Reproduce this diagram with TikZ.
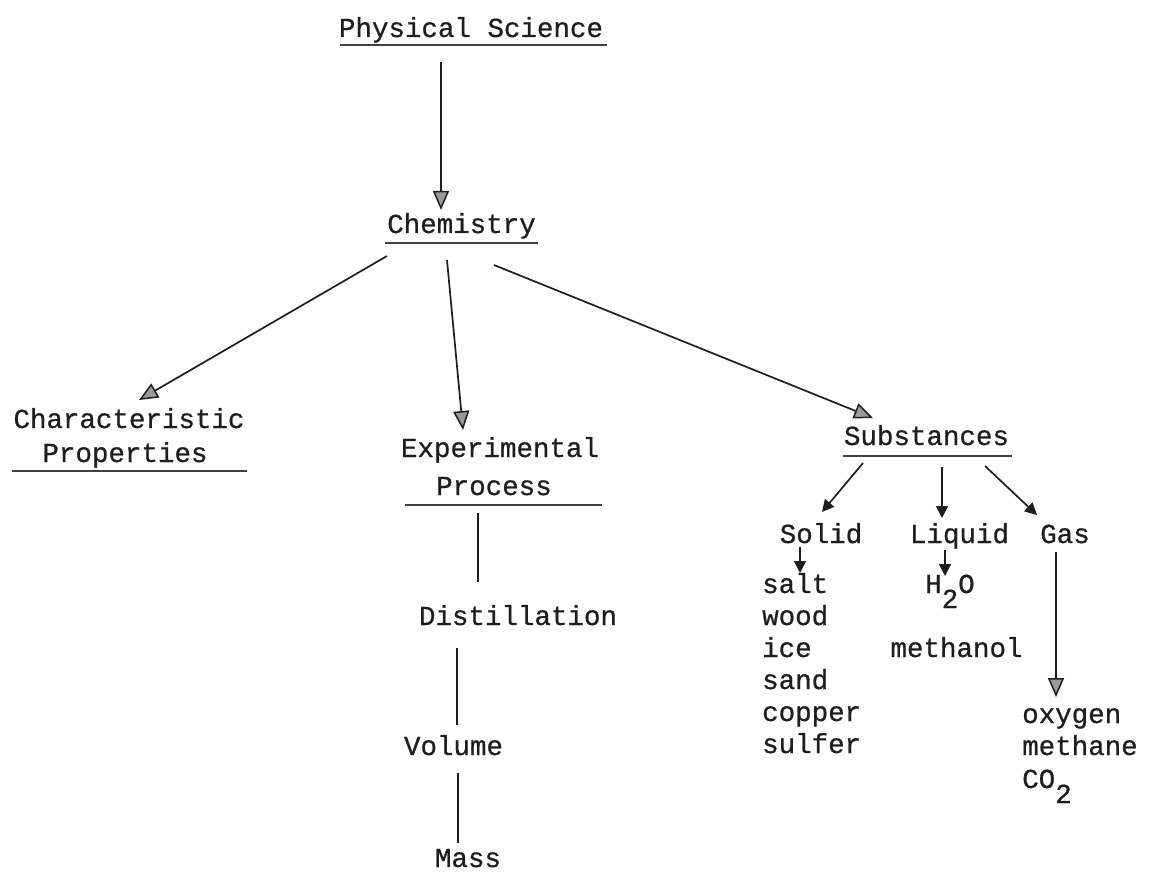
\documentclass[tikz,border=0pt]{standalone}
\usepackage{fontspec}
\usetikzlibrary{arrows.meta}
\newfontfamily\typefont[FakeBold=0.7]{Liberation Mono}
\definecolor{ink}{HTML}{1E1E1E}
\definecolor{tipgray}{HTML}{9A9A9A}

\tikzset{
  word/.style={inner sep=0pt, anchor=base, text=ink,
    font=\typefont\fontsize{27.5}{30}\selectfont},
  lword/.style={word, anchor=base west},
  uline/.style={draw=ink!85, line width=1.8pt},
  bigarrow/.style={draw=ink, line width=1.7pt,
    -{Triangle[length=19pt, width=16pt, fill=tipgray, line width=1.5pt]}},
  smallarrow/.style={draw=ink, line width=1.7pt,
    -{Triangle[length=12pt, width=12pt]}},
  plainline/.style={draw=ink, line width=2.2pt},
}

\newcommand{\low}[1]{\raisebox{-15pt}{#1}}

\begin{document}
\begin{tikzpicture}[x=1pt, y=-1pt]
  \useasboundingbox[fill=white] (0,0) rectangle (1152,888);

  % headings
  \node[word] (ps)   at (471,37)    {Physical Science};
  \node[word] (chem) at (461.5,233) {Chemistry};
  \node[word] (char) at (129,428)   {Characteristic};
  \node[word] (prop) at (125,462)   {Properties};
  \node[word] (exp)  at (500,457)   {Experimental};
  \node[word] (proc) at (494,495)   {Process};
  \node[word] (dist) at (518,625)   {Distillation};
  \node[word] (vol)  at (453.5,755) {Volume};
  \node[word] (mass) at (468,867)   {Mass};
  \node[word] (subs) at (926.5,445) {Substances};
  \node[word] (solid)  at (821,543)   {Solid};
  \node[word] (liquid) at (959.5,543) {Liquid};
  \node[word] (gas)    at (1065,543)  {Gas};

  % solids
  \node[lword] (salt)   at (762,593) {salt};
  \node[lword] (wood)   at (762,625) {wood};
  \node[lword] (ice)    at (762,657) {ice};
  \node[lword] (sand)   at (762,689) {sand};
  \node[lword] (copper) at (762,721) {copper};
  \node[lword] (sulfer) at (762,753) {sulfer};

  % liquids
  \node[lword] (water) at (925,593)  {H\low{2}O};
  \node[word]  (methanol) at (956.5,657) {methanol};

  % gases
  \node[lword] (oxygen)  at (1022,723) {oxygen};
  \node[lword] (methane) at (1022,755) {methane};
  \node[lword] (co2)     at (1022,788) {CO\low{2}};

  % underlines
  \draw[uline] ([shift={(-131,8)}]ps.base)     -- ([shift={(136,8)}]ps.base);
  \draw[uline] ([shift={(-76.5,10)}]chem.base) -- ([shift={(76.5,10)}]chem.base);
  \draw[uline] ([shift={(-113,9)}]prop.base)   -- ([shift={(122,9)}]prop.base);
  \draw[uline] ([shift={(-89,10)}]proc.base)   -- ([shift={(108,10)}]proc.base);
  \draw[uline] ([shift={(-83.5,11)}]subs.base) -- ([shift={(85.5,11)}]subs.base);

  % connectors
  \draw[bigarrow] ([shift={(-30,25)}]ps.base)    -- ([shift={(-20.5,-23)}]chem.base);
  \draw[bigarrow] ([shift={(-74.5,23)}]chem.base) -- ([shift={(10,-28)}]char.base);
  \draw[bigarrow] ([shift={(-14.5,27)}]chem.base) -- ([shift={(-37,-27)}]exp.base);
  \draw[bigarrow] ([shift={(32.5,32)}]chem.base)  -- ([shift={(-53.5,-27)}]subs.base);

  \draw[plainline] ([shift={(-16,18)}]proc.base) -- ([shift={(-40,-43)}]dist.base);
  \draw[plainline] ([shift={(-61,23)}]dist.base) -- ([shift={(3.5,-30)}]vol.base);
  \draw[plainline] ([shift={(4.5,18)}]vol.base)  -- ([shift={(-10,-24)}]mass.base);

  \draw[smallarrow] ([shift={(-63.5,18)}]subs.base) -- ([shift={(1,-31)}]solid.base);
  \draw[smallarrow] ([shift={(15.5,22)}]subs.base)  -- ([shift={(-17.5,-25)}]liquid.base);
  \draw[smallarrow] ([shift={(58.5,21)}]subs.base)  -- ([shift={(-28,-28)}]gas.base);

  \draw[smallarrow] ([shift={(-21,4)}]solid.base)    -- ([shift={(38,-20)}]salt.base west);
  \draw[smallarrow] ([shift={(-14.5,7)}]liquid.base) -- ([shift={(20,-17)}]water.base west);
  \draw[bigarrow]   ([shift={(-9,9)}]gas.base)       -- ([shift={(34,-26)}]oxygen.base west);
\end{tikzpicture}
\end{document}
